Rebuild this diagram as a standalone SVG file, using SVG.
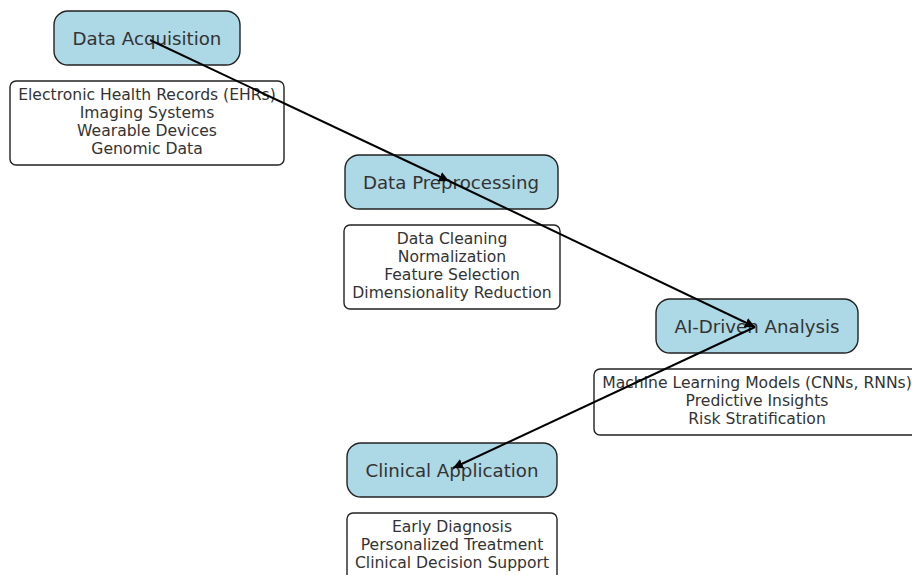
<svg xmlns="http://www.w3.org/2000/svg" width="912" height="575" viewBox="0 0 912 575">
<style>
.stage{fill:#add8e6;stroke:#222;stroke-width:1.4}
.detail{fill:#fff;stroke:#222;stroke-width:1.4}
.t{font-family:"DejaVu Sans",sans-serif;fill:#333;text-anchor:middle;dominant-baseline:central}
.big{font-size:18.2px}
.small{font-size:15.6px}
.conn{stroke:#000;stroke-width:2;fill:none;marker-end:url(#ah)}
</style>
<defs>
<marker id="ah" viewBox="0 0 10 10" refX="10" refY="5" markerWidth="5" markerHeight="5" orient="auto" markerUnits="strokeWidth">
<path d="M0,0 L10,5 L0,10 z" fill="#000"/>
</marker>
</defs>
<rect width="912" height="575" fill="#fff"/>
<g id="node-acquisition">
<rect class="stage" x="54" y="11" width="186" height="54" rx="14"/>
<text class="t big" x="147" y="38">Data Acquisition</text>
</g>
<g id="detail-acquisition">
<rect class="detail" x="10" y="81" width="274" height="84" rx="6"/>
<text class="t small" x="147" y="95">Electronic Health Records (EHRs)</text>
<text class="t small" x="147" y="113">Imaging Systems</text>
<text class="t small" x="147" y="131">Wearable Devices</text>
<text class="t small" x="147" y="149">Genomic Data</text>
</g>
<g id="node-preprocessing">
<rect class="stage" x="345" y="155" width="213" height="54" rx="14"/>
<text class="t big" x="451" y="182">Data Preprocessing</text>
</g>
<g id="detail-preprocessing">
<rect class="detail" x="344" y="225" width="216" height="84" rx="6"/>
<text class="t small" x="452" y="239">Data Cleaning</text>
<text class="t small" x="452" y="257">Normalization</text>
<text class="t small" x="452" y="275">Feature Selection</text>
<text class="t small" x="452" y="293">Dimensionality Reduction</text>
</g>
<g id="node-analysis">
<rect class="stage" x="656" y="299" width="202" height="54" rx="14"/>
<text class="t big" x="757" y="326">AI-Driven Analysis</text>
</g>
<g id="detail-analysis">
<rect class="detail" x="594" y="369" width="330" height="66" rx="6"/>
<text class="t small" x="757" y="383">Machine Learning Models (CNNs, RNNs)</text>
<text class="t small" x="757" y="401">Predictive Insights</text>
<text class="t small" x="757" y="419">Risk Stratification</text>
</g>
<g id="node-clinical">
<rect class="stage" x="347" y="443" width="210" height="54" rx="14"/>
<text class="t big" x="452" y="470">Clinical Application</text>
</g>
<g id="detail-clinical">
<rect class="detail" x="347" y="513" width="210" height="80" rx="6"/>
<text class="t small" x="452" y="527">Early Diagnosis</text>
<text class="t small" x="452" y="545">Personalized Treatment</text>
<text class="t small" x="452" y="563">Clinical Decision Support</text>
</g>
<g id="connectors">
<line class="conn" x1="150" y1="40" x2="449" y2="181"/>
<line class="conn" x1="449" y1="181" x2="755" y2="327"/>
<line class="conn" x1="755" y1="327" x2="453" y2="468"/>
</g>
</svg>
